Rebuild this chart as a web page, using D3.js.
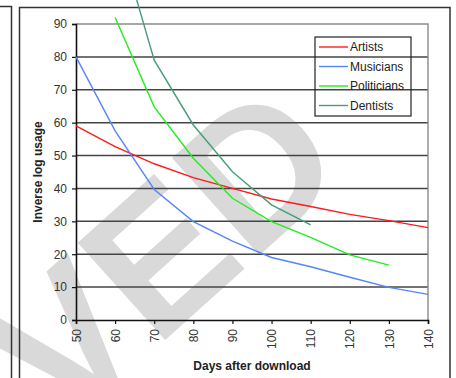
<!DOCTYPE html>
<html>
<head>
<meta charset="utf-8">
<script src="https://cdn.jsdelivr.net/npm/d3@7"></script>
<style>
  body { margin: 0; background: #fff; }
  svg { display: block; font-family: "Liberation Sans", Arial, sans-serif; }
</style>
</head>
<body>
<div id="chart"></div>
<script>
// values
let days = [50, 60, 70, 80, 90, 100, 110, 120, 130, 140];
let artists = [59, 52.7, 47.5, 43.3, 40, 36.8, 34.5, 32.1, 30.2, 28.1];
let musicians = [80, 57.5, 39.7, 29.9, 24, 19, 16.2, 13, 9.9, 7.8];
let politicians = [null, 92, 64.8, 49.2, 37, 29.9, 25.1, 19.8, 16.7, null];
let dentists = [null, 120, 79, 59.3, 45.1, 35, 28.9, null, null, null];
let seriesNames = ["Artists", "Musicians", "Politicians", "Dentists"];
let seriesColors = ["#ff1a1a", "#5585f7", "#1fef1f", "#469c76"];
let yTicks = [0, 10, 20, 30, 40, 50, 60, 70, 80, 90];
let xTicks = [50, 60, 70, 80, 90, 100, 110, 120, 130, 140];

let width = 456, height = 378;
let margin = { top: 24, right: 28, bottom: 58, left: 76 };

let svg = d3.select("#chart").append("svg")
    .attr("width", width)
    .attr("height", height);

// watermark behind everything
svg.append("text")
    .attr("transform", "translate(352,172) rotate(-42)")
    .attr("text-anchor", "end")
    .style("font-family", "Liberation Sans, Arial, sans-serif")
    .style("font-weight", "bold")
    .style("font-size", "190px")
    .style("fill", "#d9d9d9")
    .text("APPROVED");

// frames of the page
svg.append("path")
    .attr("d", "M0,6.5H11.5V378")
    .style("fill", "none").style("stroke", "#333").style("stroke-width", 1.5);
svg.append("path")
    .attr("d", "M19.5,378V7.5H450V378")
    .style("fill", "none").style("stroke", "#333").style("stroke-width", 1.5);

let x = d3.scaleLinear().domain([50, 140]).range([margin.left, width - margin.right]);
let y = d3.scaleLinear().domain([0, 90]).range([height - margin.bottom, margin.top]);

let g = svg.append("g");

// grid lines
g.selectAll(".grid")
    .data(yTicks.slice(1, -1))
    .enter().append("line")
    .attr("x1", x(50)).attr("x2", x(140))
    .attr("y1", d => y(d)).attr("y2", d => y(d))
    .style("stroke", "#444")
    .style("stroke-width", 1.5);

// plot border top and right
g.append("path")
    .attr("d", "M" + x(50) + "," + y(90) + "H" + x(140) + "V" + y(0))
    .style("fill", "none").style("stroke", "#8a8a8a").style("stroke-width", 1.4);

// axes
let yAxis = g.append("g")
    .attr("transform", "translate(" + x(50) + ",0)")
    .call(d3.axisLeft(y).tickValues(yTicks).tickSize(4).tickPadding(5));
let xAxis = g.append("g")
    .attr("transform", "translate(0," + y(0) + ")")
    .call(d3.axisBottom(x).tickValues(xTicks).tickSize(4).tickPadding(3));

[yAxis, xAxis].forEach(a => {
    a.select(".domain").style("stroke", "#111").style("stroke-width", 1.6);
    a.selectAll(".tick line").style("stroke", "#111").style("stroke-width", 1.2);
    a.selectAll("text").style("font-family", "Liberation Sans, Arial, sans-serif")
        .style("font-size", "12px").style("fill", "#333");
});
xAxis.selectAll("text")
    .attr("transform", "rotate(-90)")
    .attr("text-anchor", "end")
    .attr("x", -9).attr("y", 0)
    .attr("dy", "0.35em");

// lines
let allSeries = [artists, musicians, politicians, dentists];
let line = d3.line()
    .defined(d => d.v !== null)
    .x(d => x(d.day))
    .y(d => y(d.v));

allSeries.forEach((s, i) => {
    g.append("path")
        .datum(days.map((d, j) => ({ day: d, v: s[j] })))
        .attr("d", line)
        .style("fill", "none")
        .style("stroke", seriesColors[i])
        .style("stroke-width", 1.4);
});

// axis titles
svg.append("text")
    .attr("transform", "translate(42," + ((y(0) + y(90)) / 2) + ") rotate(-90)")
    .attr("text-anchor", "middle")
    .style("font-weight", "bold").style("font-size", "12px").style("fill", "#222")
    .text("Inverse log usage");
svg.append("text")
    .attr("x", (x(50) + x(140)) / 2)
    .attr("y", 370)
    .attr("text-anchor", "middle")
    .style("font-weight", "bold").style("font-size", "12px").style("fill", "#222")
    .text("Days after download");

// legend
let legend = svg.append("g").attr("transform", "translate(315,37)");
legend.append("rect")
    .attr("width", 96).attr("height", 79)
    .style("fill", "none").style("stroke", "#222").style("stroke-width", 1.2);
seriesNames.forEach((name, i) => {
    let ly = 10 + i * 19.5;
    legend.append("line")
        .attr("x1", 4).attr("x2", 33)
        .attr("y1", ly).attr("y2", ly)
        .style("stroke", seriesColors[i]).style("stroke-width", 1.4);
    legend.append("text")
        .attr("x", 35).attr("y", ly).attr("dy", "0.35em")
        .style("font-size", "12px").style("fill", "#222")
        .text(name);
});
</script>
</body>
</html>
